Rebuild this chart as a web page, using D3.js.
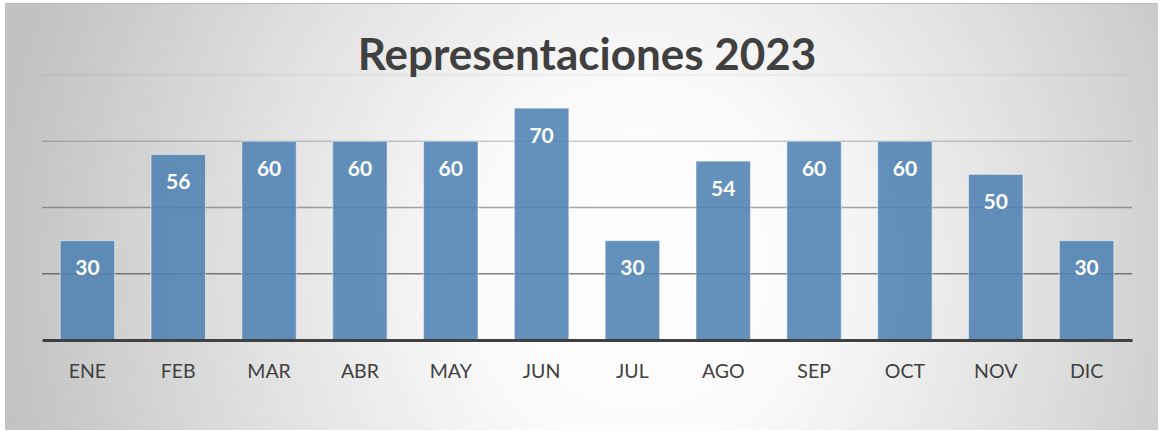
<!DOCTYPE html>
<html><head><meta charset="utf-8">
<script src="https://cdn.jsdelivr.net/npm/d3@7"></script>
<style>body{margin:0;background:#fff;}svg{display:block;}</style>
</head><body><svg id="c" width="1161" height="431"></svg>
<script>
const months = ["ENE","FEB","MAR","ABR","MAY","JUN","JUL","AGO","SEP","OCT","NOV","DIC"];
const values = [30,56,60,60,60,70,30,54,60,60,50,30];
const gridTicks = [20,40,60,80];
const title = "Representaciones 2023";

const W = 1161, H = 431;
const svg = d3.select("#c");
const defs = svg.append("defs");
const rg = defs.append("radialGradient").attr("id","bg")
  .attr("gradientUnits","userSpaceOnUse")
  .attr("cx",640).attr("cy",270).attr("r",640)
  .attr("gradientTransform","translate(640,270) scale(1,1.1) translate(-640,-270)");
rg.append("stop").attr("offset","0").attr("stop-color","#ffffff");
rg.append("stop").attr("offset","0.25").attr("stop-color","#fbfbfb");
rg.append("stop").attr("offset","0.6").attr("stop-color","#e2e2e2");
rg.append("stop").attr("offset","1").attr("stop-color","#c2c2c2");

svg.append("rect").attr("x",5).attr("y",3).attr("width",1153).attr("height",427)
  .attr("fill","url(#bg)");
svg.append("line").attr("x1",5).attr("x2",1158).attr("y1",3.5).attr("y2",3.5)
  .attr("stroke","#bdbdbd").attr("stroke-width",1);

const m = {left:42, right:1132, top:75, bottom:340};
const x = d3.scaleBand().domain(months).range([m.left,m.right]).paddingInner(0.4).paddingOuter(0.2);
const y = d3.scaleLinear().domain([0,80]).range([m.bottom,m.top]);
const gridOp = d3.scaleLinear().domain([20,80]).range([0.65,0.07]);

svg.append("g").selectAll("line").data(gridTicks).join("line")
  .attr("x1",m.left).attr("x2",m.right)
  .attr("y1",d=>y(d)).attr("y2",d=>y(d))
  .attr("stroke","#404040").attr("stroke-opacity",d=>gridOp(d)).attr("stroke-width",1.3);

svg.append("text").attr("x",587).attr("y",70).attr("text-anchor","middle")
  .attr("font-family","Lato, sans-serif").attr("font-weight","bold").attr("font-size",44)
  .attr("fill","#404040").text(title);

const bars = svg.append("g");
bars.selectAll("rect").data(values).join("rect")
  .attr("x",(d,i)=>x(months[i])).attr("width",x.bandwidth())
  .attr("y",d=>y(d)).attr("height",d=>y(0)-y(d))
  .attr("fill","#4d82b3").attr("fill-opacity",0.88)
  .attr("stroke","#ffffff").attr("stroke-opacity",0.45).attr("stroke-width",1.2);

bars.selectAll("text").data(values).join("text")
  .attr("x",(d,i)=>x(months[i])+x.bandwidth()/2).attr("y",d=>y(d)+34.5)
  .attr("text-anchor","middle").attr("font-family","Lato, sans-serif")
  .attr("font-weight","bold").attr("font-size",21).attr("fill","#ffffff").text(d=>d);

const xAxis = d3.axisBottom(x).tickSize(0).tickPadding(0);
const ga = svg.append("g").attr("transform",`translate(0,${y(0)})`).call(xAxis);
ga.select(".domain").attr("stroke","#404040").attr("stroke-width",3);
ga.selectAll(".tick text").attr("dy",0).attr("y",38)
  .attr("font-family","Lato, sans-serif").attr("font-size",19.5).attr("fill","#404040");
</script></body></html>
